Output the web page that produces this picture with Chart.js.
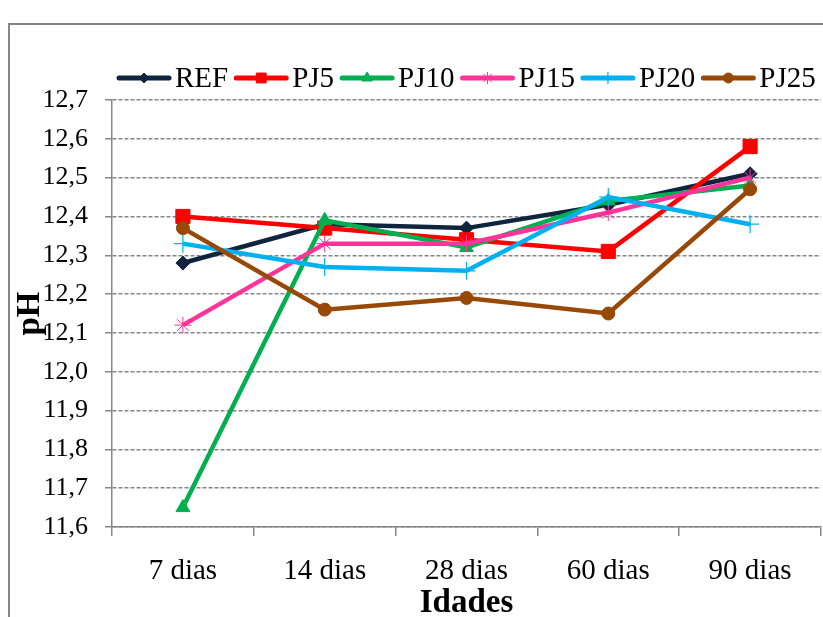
<!DOCTYPE html>
<html>
<head>
<meta charset="utf-8">
<script src="https://cdn.jsdelivr.net/npm/chart.js@4.4.1/dist/chart.umd.min.js"></script>
<style>
  html, body { margin: 0; padding: 0; background: #ffffff; }
  #wrap { width: 823px; height: 617px; position: relative; }
</style>
</head>
<body>
<div id="wrap"><canvas id="c" width="823" height="617"></canvas></div>
<script>
// pH by curing age for the reference mix and the PJ mixes
const ages = ['7 dias', '14 dias', '28 dias', '60 dias', '90 dias'];
const seriesNames = ['REF', 'PJ5', 'PJ10', 'PJ15', 'PJ20', 'PJ25'];
const REF  = [12.28, 12.38, 12.37, 12.43, 12.51];
const PJ5  = [12.40, 12.37, 12.34, 12.31, 12.58];
const PJ10 = [11.65, 12.39, 12.32, 12.44, 12.48];
const PJ15 = [12.12, 12.33, 12.33, 12.41, 12.50];
const PJ20 = [12.33, 12.27, 12.26, 12.45, 12.38];
const PJ25 = [12.37, 12.16, 12.19, 12.15, 12.47];
const phTicks = [11.6, 11.7, 11.8, 11.9, 12.0, 12.1, 12.2, 12.3, 12.4, 12.5, 12.6, 12.7];

const seriesValues = [REF, PJ5, PJ10, PJ15, PJ20, PJ25];

const SERIF = '"Liberation Serif", "Times New Roman", serif';

// line colour, marker shape, marker size in plot and in key, marker stroke
const looks = [
  { color: '#0f243e', shape: 'rectRot',  r: 7,   kr: 5,   bw: 1 },
  { color: '#ff0000', shape: 'rect',     r: 10,  kr: 7,   bw: 1 },
  { color: '#00b050', shape: 'triangle', r: 8,   kr: 6,   bw: 1 },
  { color: '#ff3399', shape: 'star',     r: 8.5, kr: 6,   bw: 1 },
  { color: '#00b0f0', shape: 'cross',    r: 9,   kr: 6,   bw: 1.2 },
  { color: '#984807', shape: 'circle',   r: 6.5, kr: 5,   bw: 1 }
];

const datasets = seriesNames.map((name, i) => ({
  label: name,
  data: seriesValues[i],
  borderColor: looks[i].color,
  backgroundColor: looks[i].color,
  borderWidth: 4.5,
  tension: 0,
  pointStyle: looks[i].shape,
  pointRadius: looks[i].r,
  pointHoverRadius: looks[i].r,
  pointBorderWidth: looks[i].bw,
  pointBorderColor: looks[i].color,
  pointBackgroundColor: looks[i].color,
  order: seriesNames.length - i
}));

// grey frame round the whole figure
const framePlugin = {
  id: 'frame',
  beforeDraw(chart) {
    const ctx = chart.ctx;
    ctx.save();
    ctx.fillStyle = '#ffffff';
    ctx.fillRect(0, 0, chart.width, chart.height);
    ctx.strokeStyle = '#868686';
    ctx.lineWidth = 2;
    ctx.strokeRect(9, 24, chart.width + 40, chart.height + 40);
    ctx.restore();
  }
};

// one-row key: line sample with its marker, then the series name
const keyPlugin = {
  id: 'seriesKey',
  afterDraw(chart) {
    const ctx = chart.ctx;
    const y = 78;
    let x = 117;
    const lineLen = 54;
    ctx.save();
    ctx.font = '29px ' + SERIF;
    ctx.textBaseline = 'middle';
    chart.data.datasets.forEach((ds, i) => {
      const lk = looks[i];
      ctx.strokeStyle = lk.color;
      ctx.lineWidth = 5;
      ctx.lineCap = 'round';
      ctx.beginPath();
      ctx.moveTo(x + 2, y);
      ctx.lineTo(x + lineLen - 2, y);
      ctx.stroke();
      ctx.lineCap = 'butt';
      ctx.fillStyle = lk.color;
      ctx.lineWidth = lk.bw;
      Chart.helpers.drawPoint(ctx, {
        pointStyle: lk.shape, radius: lk.kr, rotation: 0, borderWidth: lk.bw
      }, x + lineLen / 2, y);
      ctx.fillStyle = '#000000';
      ctx.fillText(ds.label, x + lineLen + 4, y + 1);
      x += lineLen + 4 + ctx.measureText(ds.label).width + 6;
    });
    ctx.restore();
  }
};

new Chart(document.getElementById('c'), {
  type: 'line',
  data: { labels: ages, datasets: datasets },
  options: {
    responsive: false,
    animation: false,
    events: [],
    layout: { autoPadding: false, padding: { top: 100, left: 0, right: 2, bottom: 0 } },
    plugins: {
      legend: { display: false },
      tooltip: { enabled: false }
    },
    scales: {
      x: {
        type: 'category',
        offset: true,
        grid: {
          display: true, drawOnChartArea: false, drawTicks: true,
          tickLength: 9, offset: true, color: '#868686', lineWidth: 1.5
        },
        border: { display: true, color: '#868686', width: 1.5 },
        ticks: {
          font: { family: SERIF, size: 29 }, color: '#000000',
          padding: 18, maxRotation: 0, autoSkip: false
        },
        title: {
          display: true, text: 'Idades', color: '#000000',
          font: { family: SERIF, size: 33, weight: 'bold', lineHeight: 1 },
          padding: { top: 0, bottom: -2.5 }
        },
        afterFit(scale) {
          scale.height = 90;
          scale.paddingLeft = 0;
          scale.paddingRight = 0;
        }
      },
      y: {
        min: 11.6,
        max: 12.7,
        afterBuildTicks(scale) {
          scale.ticks = phTicks.map(v => ({ value: v }));
        },
        grid: {
          color: '#868686', lineWidth: 1.5, tickLength: 7, tickBorderDash: []
        },
        border: { display: true, color: '#868686', width: 1.5, dash: [4, 2] },
        ticks: {
          font: { family: SERIF, size: 26 }, color: '#000000', padding: 17,
          callback: v => Number(v).toFixed(1).replace('.', ',')
        },
        title: {
          display: true, text: 'pH', color: '#000000',
          font: { family: SERIF, size: 33, weight: 'bold', lineHeight: 1 },
          padding: { top: 14, bottom: 0 }
        },
        afterFit(scale) { scale.width = 112; }
      }
    }
  },
  plugins: [framePlugin, keyPlugin]
});
</script>
</body>
</html>
